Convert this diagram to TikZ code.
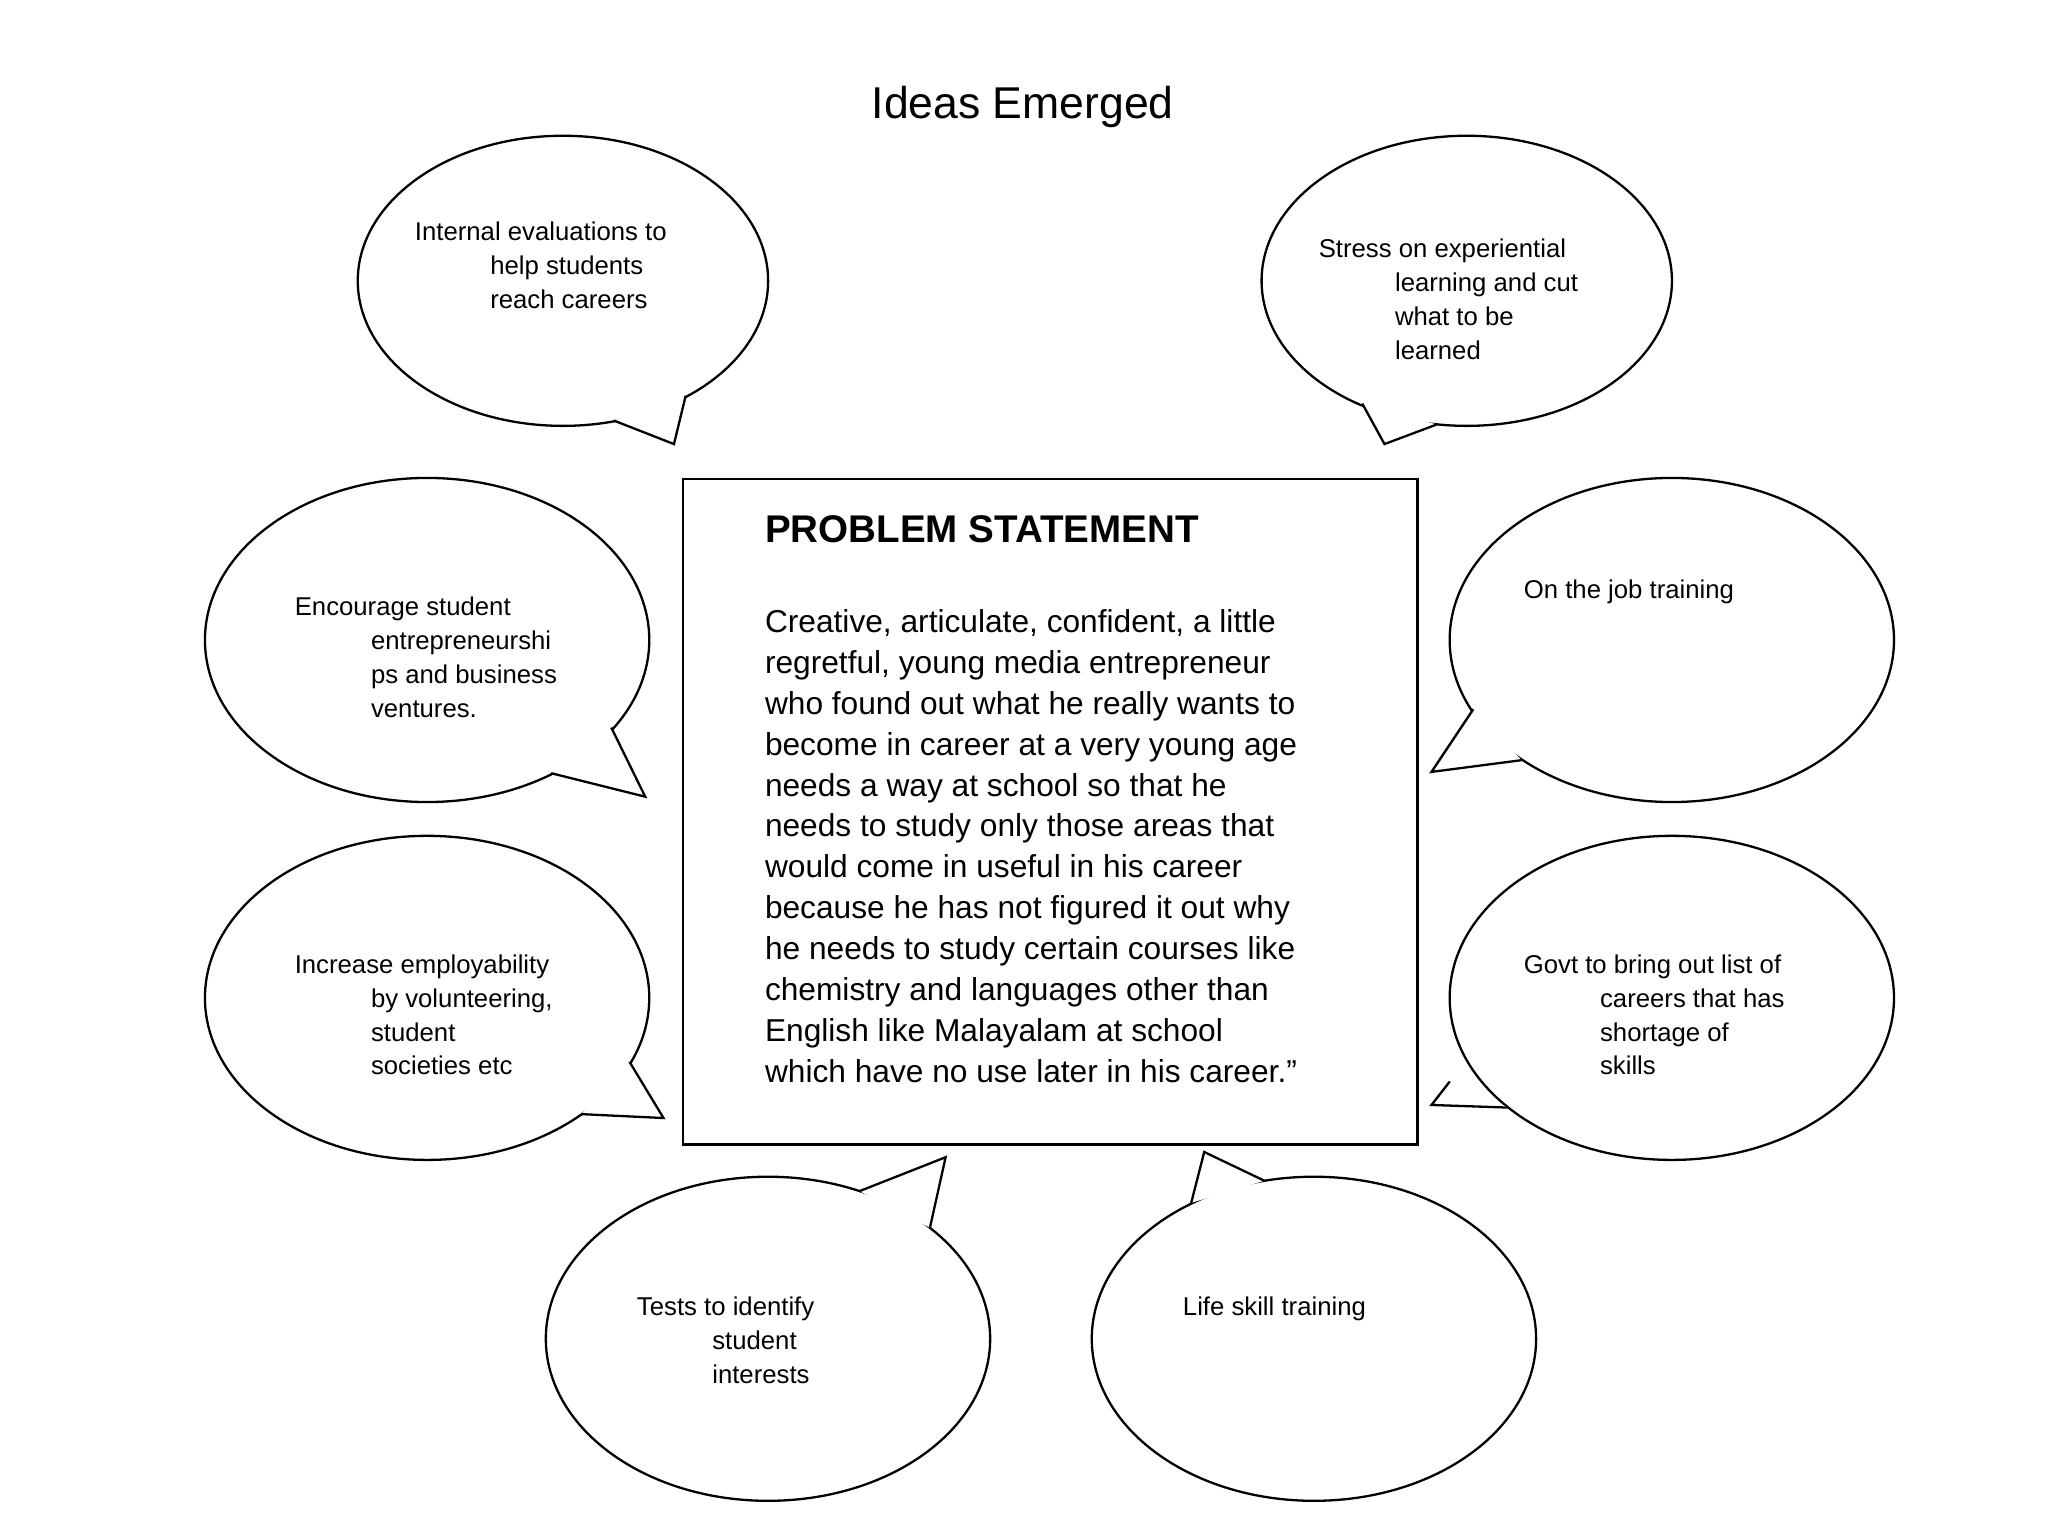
\documentclass[tikz,border=0pt]{standalone}
\usepackage{fontspec}
\setmainfont{Liberation Sans}
\usetikzlibrary{shapes.geometric}
\tikzset{
 bub/.style={ellipse,draw,line width=0.5pt,inner sep=0pt},
 btxt/.style={anchor=north west,inner sep=0pt,align=left,font=\fontsize{5.6}{7.4}\selectfont},
}
\newcommand\tailx[3]{%
 \fill[white] (#1) -- (#3) -- (#2) -- cycle;
 \draw[line width=0.5pt,line join=miter] (#1) -- (#3) -- (#2);}
\begin{document}
\begin{tikzpicture}[x=0.01cm,y=-0.01cm]
\useasboundingbox (0,0) rectangle (1568,1176);
\node[font=\fontsize{9.7}{11}\selectfont] (title) at (783,82) {Ideas Emerged};
% box
\node[draw,line width=0.5pt,minimum width=5.62cm,minimum height=5.09cm,anchor=north west] (box) at (522,366) {};
\node[anchor=north west,inner sep=0pt,font=\fontsize{8.4}{10}\selectfont\bfseries] (ps) at (585,394) {PROBLEM STATEMENT};
\node[anchor=north west,inner sep=0pt,align=left,font=\fontsize{6.9}{8.9}\selectfont] (body) at (585,466) {Creative, articulate, confident, a little\\regretful, young media entrepreneur\\who found out what he really wants to\\become in career at a very young age\\needs a way at school so that he\\needs to study only those areas that\\would come in useful in his career\\because he has not figured it out why\\he needs to study certain courses like\\chemistry and languages other than\\English like Malayalam at school\\which have no use later in his career.”};
% bubbles
\node[bub,minimum width=3.14cm,minimum height=2.22cm] (b1) at (431,215) {};
\node[bub,minimum width=3.14cm,minimum height=2.22cm] (b2) at (1123,215) {};
\node[bub,minimum width=3.40cm,minimum height=2.48cm] (b3) at (327,490) {};
\node[bub,minimum width=3.40cm,minimum height=2.48cm] (b4) at (1280,490) {};
\node[bub,minimum width=3.40cm,minimum height=2.48cm] (b5) at (327,764) {};
\node[bub,minimum width=3.40cm,minimum height=2.48cm] (b6) at (1280,764) {};
\node[bub,minimum width=3.40cm,minimum height=2.48cm] (b7) at (588,1025) {};
\node[bub,minimum width=3.40cm,minimum height=2.48cm] (b8) at (1006,1025) {};
% tails
\coordinate (t1a) at (470,322); \coordinate (t1b) at (525,303); \coordinate (t1) at (516,340);
\coordinate (t2a) at (1100,325); \coordinate (t2b) at (1043,309); \coordinate (t2) at (1060,340);
\coordinate (t3a) at (422,592); \coordinate (t3b) at (468,557); \coordinate (t3) at (494,610);
\coordinate (t4a) at (1128,543); \coordinate (t4b) at (1165,582); \coordinate (t4) at (1096,591);
\coordinate (t5a) at (482,813); \coordinate (t5b) at (445,853); \coordinate (t5) at (508,856);
\coordinate (t6a) at (1110,828); \coordinate (t6b) at (1155,848); \coordinate (t6) at (1096,846);
\coordinate (t7a) at (658,912); \coordinate (t7b) at (712,940); \coordinate (t7) at (724,886);
\coordinate (t8a) at (912,921); \coordinate (t8b) at (968,904); \coordinate (t8) at (922,882);
\tailx{t1a}{t1b}{t1}\tailx{t2a}{t2b}{t2}\tailx{t3a}{t3b}{t3}\tailx{t4a}{t4b}{t4}
\tailx{t5a}{t5b}{t5}\tailx{t6a}{t6b}{t6}\tailx{t7a}{t7b}{t7}\tailx{t8a}{t8b}{t8}
% texts
\node[btxt] (x1) at (317,169) {Internal evaluations to\\\hspace*{16.4pt}help students\\\hspace*{16.4pt}reach careers};
\node[btxt] (x2) at (1009,182) {Stress on experiential\\\hspace*{16.6pt}learning and cut\\\hspace*{16.6pt}what to be\\\hspace*{16.6pt}learned};
\node[btxt] (x3) at (225,456) {Encourage student\\\hspace*{16.6pt}entrepreneurshi\\\hspace*{16.6pt}ps and business\\\hspace*{16.6pt}ventures.};
\node[btxt] (x4) at (1166,443) {On the job training};
\node[btxt] (x5) at (225,730) {Increase employability\\\hspace*{16.6pt}by volunteering,\\\hspace*{16.6pt}student\\\hspace*{16.6pt}societies etc};
\node[btxt] (x6) at (1166,730) {Govt to bring out list of\\\hspace*{16.6pt}careers that has\\\hspace*{16.6pt}shortage of\\\hspace*{16.6pt}skills};
\node[btxt] (x7) at (487,992) {Tests to identify\\\hspace*{16.4pt}student\\\hspace*{16.4pt}interests};
\node[btxt] (x8) at (905,992) {Life skill training};
\end{tikzpicture}
\end{document}
